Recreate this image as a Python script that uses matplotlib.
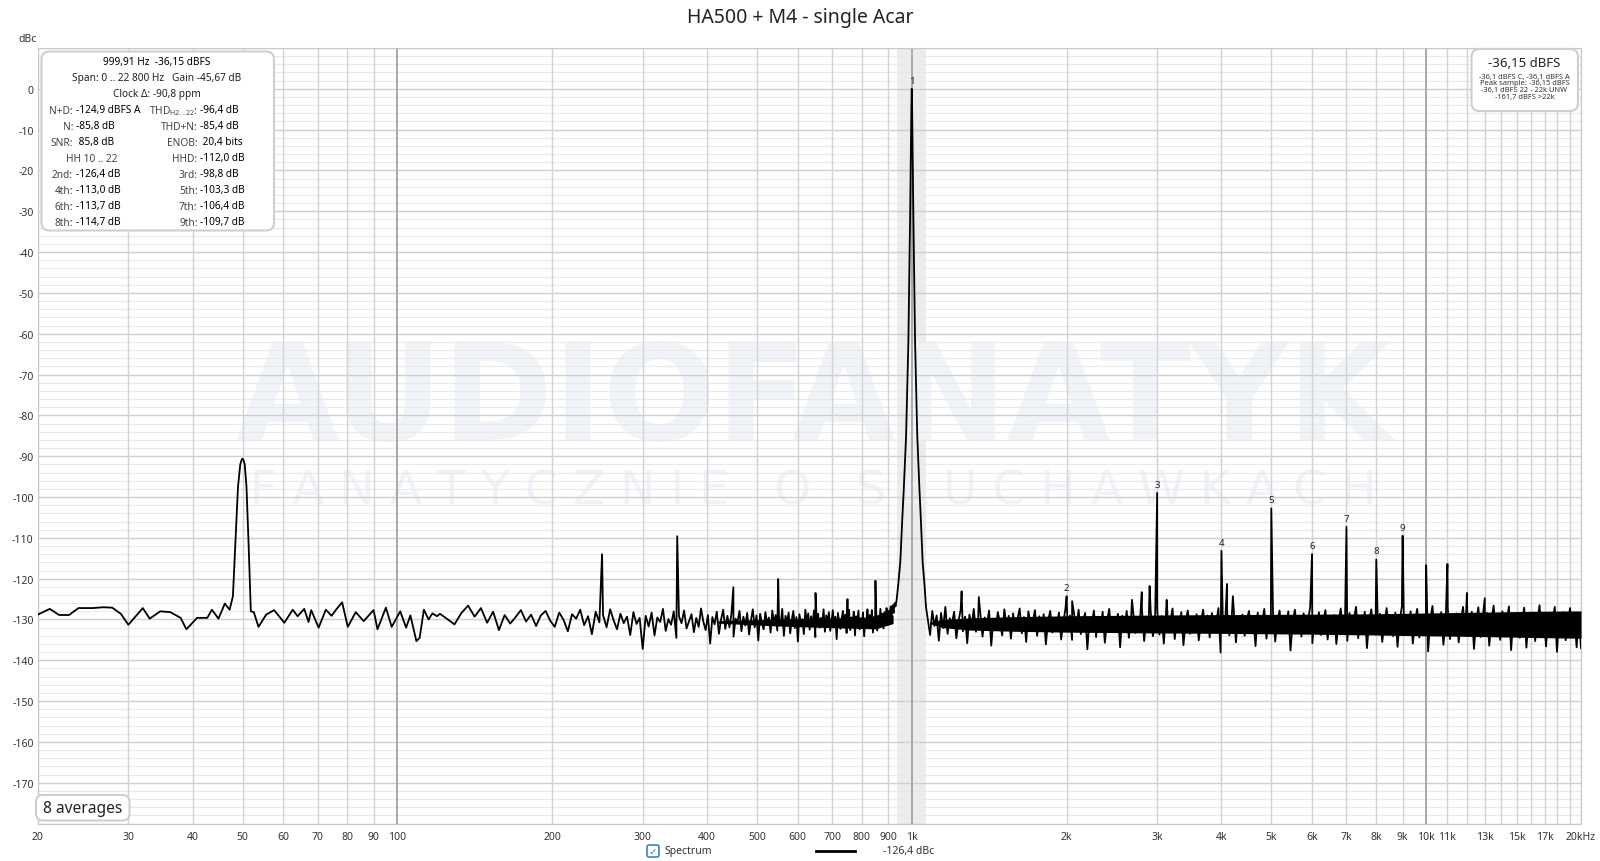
import numpy as np
import matplotlib.pyplot as plt
from matplotlib.patches import FancyBboxPatch
from matplotlib.lines import Line2D
from matplotlib.transforms import IdentityTransform

plt.rcParams['font.family'] = ['Noto Sans', 'DejaVu Sans']

# ---- spectrum values (dBc) ----
# 20 .. 120 Hz, incl. the 50 Hz hum peak
low_freq = [20.0, 21.1, 22.0, 23.0, 24.0, 25.6, 26.8, 27.9, 29.0, 30.0, 31.0, 32.0, 33.0,
            34.6, 36.2, 37.9, 38.9, 40.8, 42.7, 43.6, 44.9, 46.2, 47.2, 47.9, 48.4, 49.0,
            49.5, 49.8, 50.0, 50.2, 50.5, 50.9, 51.4, 51.9, 52.6, 53.7, 55.6, 57.6, 60.3,
            62.6, 64.0, 65.9, 67.2, 68.0, 70.3, 72.6, 74.5, 76.0, 78.1, 80.1, 83.0, 86.0,
            89.9, 91.5, 95.0, 97.5, 101.3, 104.0, 106.0, 108.9, 110.5, 112.6, 115.0, 117.0, 119.4]
low_db = [-128.8, -127.4, -128.9, -128.9, -127.2, -127.2, -127.0, -127.1, -128.6, -131.3, -129.2,
          -127.2, -129.8, -128.0, -128.2, -129.6, -132.4, -129.6, -129.6, -127.6, -129.8, -126.1,
          -127.6, -124.3, -112.0, -97.5, -92.0, -90.9, -90.6, -90.9, -92.0, -97.5, -112.0, -128.0,
          -128.2, -131.8, -128.8, -127.7, -130.8, -127.6, -129.2, -127.4, -130.6, -127.7, -132.0,
          -127.6, -129.1, -127.6, -125.8, -131.8, -128.2, -130.4, -127.7, -132.4, -127.1, -131.8,
          -128.0, -132.0, -129.0, -135.3, -134.5, -127.6, -130.0, -128.5, -129.2]

# 121 .. 930 Hz noise floor (evenly spaced FFT bins)
mid_db = [
    -128.6, -129.9, -131.2, -128.4, -126.6, -129.3, -127.2, -130.8, -128.1, -132.6,
    -128.9, -131.0, -129.4, -127.7, -130.5, -128.8, -131.6, -129.0, -127.9, -130.3,
    -131.8, -128.3, -130.1, -132.9, -128.7, -129.8, -127.6, -131.4, -129.2, -133.6,
    -128.1, -130.7, -128.9, -131.9, -127.5, -130.2, -132.4, -128.6, -130.9, -129.3,
    -133.8, -128.2, -131.1, -129.6, -137.2,
    -129.1, -131.7, -128.3, -133.9, -129.5, -130.6, -127.4, -132.8, -129.9, -131.3,
    -128.0, -134.5, -129.2, -130.9, -127.8, -132.2, -130.4, -128.7, -133.1, -129.6,
    -131.8, -127.3, -130.5, -132.6, -128.9, -135.9, -129.4, -131.2, -128.1, -133.5,
    -130.0, -127.6, -132.3, -129.1, -131.9, -128.5, -134.2, -129.8, -130.7, -127.9,
    -132.9, -129.3, -131.5, -128.4, -133.7, -130.2, -127.5, -131.9, -129.0, -135.1,
    -128.6, -130.8, -132.4, -128.2, -131.1,
    -129.5, -133.2, -127.8, -130.9, -128.9, -132.7, -129.7, -131.3, -127.4, -134.0,
    -129.1, -130.6, -128.3, -133.4, -130.1, -127.9, -132.1, -129.4, -135.4, -128.7,
    -131.0, -129.9, -133.6, -127.6, -130.8, -128.5, -132.5, -129.2, -131.7, -127.8,
    -134.3, -130.3, -128.6, -132.0, -129.6, -131.4, -127.5, -133.0, -129.0, -130.9,
    -128.2, -132.8, -130.5, -127.7, -131.6, -129.3, -134.8, -128.4, -130.7, -132.3,
    -129.8, -127.9, -131.2, -128.8, -133.3, -130.0, -127.6, -132.6, -129.5, -131.0,
    -128.1, -133.9, -129.2, -130.6, -127.8, -132.4, -129.7, -131.5, -128.3, -134.1,
    -129.9, -130.3, -127.5, -132.0, -128.9, -131.3, -127.7, -133.2, -129.4, -130.8,
    -128.0, -132.7, -129.1, -131.1, -127.4, -130.5, -128.6, -132.2, -128.2, -130.0,
    -127.2, -131.4, -127.9, -129.3, -126.8, -129.8, -126.5, -128.4, -126.0, -126.8]

# fundamental at 1 kHz
peak_freq = [935, 942, 950, 958, 965, 975, 985, 993, 998, 1000,
             1002, 1007, 1015, 1025, 1035, 1042, 1050, 1058, 1066]
peak_db = [-125.0, -121.0, -116.0, -106.0, -98.0, -85.0, -62.0, -30.0, -6.0, 0.0,
           -6.0, -30.0, -62.0, -85.0, -98.0, -106.0, -116.0, -121.0, -127.0]

# 1075 Hz .. 20 kHz noise floor
high_db = [
    -130.2, -133.8, -127.9, -131.6, -129.0, -135.2, -128.4, -132.1, -126.9, -133.5,
    -129.7, -131.0, -128.1, -134.6, -130.4, -127.6, -132.9, -129.3, -135.8, -128.8,
    -131.7, -127.4, -133.0, -130.1, -128.6, -134.2, -129.5, -131.3, -127.8, -136.4,
    -129.9, -132.4, -128.2, -130.8, -133.9, -127.5, -131.9, -129.1, -134.7, -128.5,
    -132.6, -130.0, -127.3, -133.4, -129.4, -135.5, -128.0, -131.2, -130.6, -127.7,
    -134.0, -129.2, -132.0, -128.7, -136.1, -130.3, -127.9, -133.2, -129.6, -131.5,
    -128.3, -134.9, -130.7, -127.2, -132.7, -129.0, -135.0, -128.9, -131.8, -127.6,
    -133.6, -130.2, -128.4, -137.3, -129.8, -131.0, -127.8, -134.3, -129.3, -132.3,
    -128.1, -135.7, -130.5, -127.4, -133.1, -129.7, -131.4, -128.6, -136.8, -129.1,
    -132.8, -127.9, -134.5, -130.0, -128.3, -133.3, -129.5, -131.1, -127.5, -135.3,
    -129.9, -132.2, -128.0, -134.1, -130.8, -127.7, -133.7, -129.2, -135.9, -128.5,
    -131.6, -130.3, -127.3, -134.8, -129.6, -132.5, -128.2, -136.3, -130.1, -127.8,
    -133.5, -129.4, -131.9, -128.7, -135.1, -130.6, -127.6, -132.9, -129.0, -134.4,
    -128.4, -131.3, -130.9, -127.2, -138.1, -129.7, -132.1, -128.1, -133.9, -130.4,
    -127.5, -135.6, -129.3, -131.7, -128.8, -134.0, -130.0, -127.9, -133.0, -129.8,
    -136.5, -128.3, -132.4, -130.5, -127.4, -134.7, -129.1, -131.5, -128.6, -135.4,
    -130.2, -127.8, -133.4, -129.5, -131.8, -128.0, -137.6, -130.7, -127.6, -132.6,
    -129.2, -134.2, -128.5, -131.2, -130.1, -127.1, -135.8, -129.9, -132.8, -128.2,
    -133.8, -130.3, -127.7, -134.9, -129.4, -131.9, -128.9, -136.0, -130.6, -127.3,
    -133.2, -129.0, -135.2, -128.4, -131.4, -130.0, -126.9, -134.6, -129.6, -132.3,
    -128.1, -137.0, -130.4, -127.5, -133.6, -129.8, -131.6, -128.6, -135.5, -130.9,
    -127.2, -132.7, -129.3, -134.1, -128.3, -136.7, -130.2, -126.8, -133.1, -129.5,
    -131.9, -128.0, -135.9, -130.5, -127.4, -134.4, -129.1, -132.0, -128.7, -137.8,
    -130.0, -126.7, -133.5, -129.7, -131.3, -128.2, -136.2, -130.8, -127.3, -134.8,
    -129.2, -132.5, -128.5, -135.6, -130.3, -126.9, -133.9, -129.9, -131.7, -128.1,
    -137.2, -130.6, -127.0, -134.3, -129.4, -132.9, -128.4, -136.4, -130.1, -126.6,
    -133.3, -129.6, -135.0, -128.0, -131.8, -130.7, -126.8, -137.5, -129.3, -132.2,
    -128.6, -134.5, -130.4, -127.1, -136.9, -129.8, -131.4, -128.3, -135.3, -130.9,
    -126.5, -133.7, -129.0, -136.6, -128.7, -131.6, -130.2, -126.9, -137.9, -129.5,
    -132.6, -128.2, -135.1, -130.5, -127.2, -134.0, -129.7, -136.8, -128.4, -137.0]

# solid core of the dense noise band (where the trace is packed black)
core_mid_freq = [420, 550, 700, 850, 920]
core_mid_top = [-130.3, -129.9, -129.6, -129.4, -128.9]
core_mid_bot = [-130.9, -131.6, -132.0, -132.3, -131.0]
core_hi_freq = [1085, 1150, 1300, 1600, 2000, 3000, 4000, 6000, 8000, 10000, 13000,
                16000, 20000]
core_hi_top = [-130.6, -130.0, -129.6, -129.3, -129.1, -128.9, -128.8, -128.7, -128.6,
               -128.4, -128.2, -128.0, -127.9]
core_hi_bot = [-131.0, -132.0, -132.6, -132.9, -133.1, -133.3, -133.4, -133.6, -133.8,
               -134.0, -134.2, -134.4, -134.6]

# mains / idle-tone spurs and small sidebands
spur_freq = [250, 350, 450, 550, 650, 750, 850, 1250, 1350, 2050, 2680, 2800, 2900,
             3130, 4100, 4210, 10000, 11000, 12000, 13000]
spur_db = [-114.0, -109.6, -122.1, -120.1, -123.5, -125.0, -120.5, -123.1, -124.5, -125.5,
           -125.2, -123.3, -121.8, -125.2, -121.3, -124.3, -116.7, -116.4, -123.5, -124.8]

# harmonics 2..9 (1 = fundamental)
harm_freq = [1000, 2000, 3000, 4000, 5000, 6000, 7000, 8000, 9000]
harm_db = [0.0, -124.3, -99.0, -113.2, -102.8, -114.0, -107.3, -115.3, -109.5]
harm_label = ['1', '2', '3', '4', '5', '6', '7', '8', '9']

mid_freq = np.linspace(121, 930, len(mid_db))
high_freq = np.geomspace(1075, 20000, len(high_db))

freq = np.concatenate([low_freq, mid_freq, peak_freq, high_freq, spur_freq, harm_freq[1:]])
level = np.concatenate([low_db, mid_db, peak_db, high_db, spur_db, harm_db[1:]])
order = np.argsort(freq)
freq, level = freq[order], level[order]

# ---- figure ----
W, H = 1600, 862
fig = plt.figure(figsize=(16, 8.62), dpi=100)
ax = fig.add_axes([37.8 / W, 1 - 824.6 / H, 1543.2 / W, 775.6 / H])
ax.set_xscale('log')
ax.set_xlim(20, 20000)
ax.set_ylim(-180, 10)

# grid
for db in range(-180, 11, 2):
    if db % 10 == 0:
        ax.axhline(db, color='#cfcfcf', lw=1.0, zorder=1)
    else:
        ax.axhline(db, color='#e9e9e9', lw=0.8, zorder=1)
grid_f = list(range(20, 100, 10)) + list(range(200, 1000, 100)) + \
    list(range(2000, 10000, 1000)) + list(range(11000, 20001, 1000))
for f in grid_f:
    ax.axvline(f, color='#d2d2d2', lw=1.0, zorder=1)
for f in [100, 1000, 10000]:
    ax.axvline(f, color='#a8a8a8', lw=1.4, zorder=1)

ax.axvspan(938, 1066, color='#ececec', zorder=0.5, lw=0)

# watermark
ax.text(0.5027, 1 - (403 - 49) / 775.6, 'AUDIOFANATYK', transform=ax.transAxes,
        ha='center', va='center', fontsize=96, fontweight='bold', color='#f0f4f9',
        family='DejaVu Sans', zorder=0.6)
ax.text(0.5027, 1 - (492 - 49) / 775.6, 'F A N A T Y C Z N I E   O   S Ł U C H A W K A C H',
        transform=ax.transAxes, ha='center', va='center', fontsize=34, color='#eff3f8',
        family='DejaVu Sans', zorder=0.6)

ax.fill_between(core_mid_freq, core_mid_bot, core_mid_top, color='black', lw=0, zorder=2.9)
ax.fill_between(core_hi_freq, core_hi_bot, core_hi_top, color='black', lw=0, zorder=2.9)
ax.plot(freq, level, color='black', lw=1.3, zorder=3)

for f, db, lab in zip(harm_freq, harm_db, harm_label):
    ax.annotate(lab, (f, db), xytext=(0, 3), textcoords='offset points',
                ha='center', va='bottom', fontsize=7, color='#222222', zorder=4)

# ticks
xt = [20, 30, 40, 50, 60, 70, 80, 90, 100, 200, 300, 400, 500, 600, 700, 800, 900,
      1000, 2000, 3000, 4000, 5000, 6000, 7000, 8000, 9000, 10000, 11000, 13000, 15000,
      17000, 20000]
xl = ['20', '30', '40', '50', '60', '70', '80', '90', '100', '200', '300', '400', '500',
      '600', '700', '800', '900', '1k', '2k', '3k', '4k', '5k', '6k', '7k', '8k', '9k',
      '10k', '11k', '13k', '15k', '17k', '20kHz']
ax.set_xticks(xt)
ax.set_xticklabels(xl)
ax.xaxis.set_minor_locator(plt.NullLocator())
for t in ax.get_xticklabels():
    if t.get_text() in ('11k', '13k', '15k', '17k'):
        t.set_color('#a8a8a8')
yt = list(range(0, -171, -10))
ax.set_yticks(yt)
ax.set_yticklabels([str(v) for v in yt])
ax.tick_params(length=0, labelsize=7.5, labelcolor='#333333')
ax.tick_params(axis='x', pad=5)
ax.tick_params(axis='y', pad=3)
for s in ax.spines.values():
    s.set_color('#c8c8c8')

# ---- texts in pixel coordinates ----
def ftext(x, y, s, **kw):
    fig.text(x / W, 1 - y / H, s, **kw)

def rbox(x0, y0, x1, y1, r=8, lw=1.5, ec='#cfcfcf'):
    p = FancyBboxPatch((x0, H - y1), x1 - x0, y1 - y0,
                       boxstyle='round,pad=0,rounding_size=%d' % r,
                       transform=IdentityTransform(), fc='white', ec=ec, lw=lw)
    fig.add_artist(p)

ftext(800, 17.5, 'HA500 + M4 - single Acar', ha='center', va='center', fontsize=14,
      color='#222222')
ftext(27.5, 40, 'dBc', ha='center', va='center', fontsize=7.5, color='#333333')

# measurement box
rbox(41.5, 52.5, 274, 231.5)
fs = 7.3
cx = 157
ftext(cx, 63, '999,91 Hz  -36,15 dBFS', ha='center', va='center', fontsize=fs, color='black')
ftext(cx, 79, 'Span: 0 .. 22 800 Hz   Gain -45,67 dB', ha='center', va='center',
      fontsize=fs, color='#222222')
ftext(cx, 95, 'Clock \u0394: -90,8 ppm', ha='center', va='center', fontsize=fs, color='#222222')
rows = [('N+D:', '-124,9 dBFS A', r'THD$_{\mathregular{H2..22}}$:', '-96,4 dB'),
        ('N:', '-85,8 dB', 'THD+N:', '-85,4 dB'),
        ('SNR:', ' 85,8 dB', 'ENOB:', ' 20,4 bits'),
        ('', '', 'HHD:', '-112,0 dB'),
        ('2nd:', '-126,4 dB', '3rd:', '-98,8 dB'),
        ('4th:', '-113,0 dB', '5th:', '-103,3 dB'),
        ('6th:', '-113,7 dB', '7th:', '-106,4 dB'),
        ('8th:', '-114,7 dB', '9th:', '-109,7 dB')]
for i, (l1, v1, l2, v2) in enumerate(rows):
    y = 111 + 16 * i
    ftext(73, y, l1, ha='right', va='center', fontsize=fs, color='#444444')
    ftext(76, y, v1, ha='left', va='center', fontsize=fs, color='black')
    ftext(197.5, y, l2, ha='right', va='center', fontsize=fs, color='#444444')
    ftext(200.5, y, v2, ha='left', va='center', fontsize=fs, color='black')
ftext(92, 159, 'HH 10 .. 22', ha='center', va='center', fontsize=fs, color='#444444')

# level box
rbox(1471.5, 50, 1578, 112)
ftext(1524.5, 63.5, '-36,15 dBFS', ha='center', va='center', fontsize=9.5, color='#222222')
for i, s in enumerate(['-36,1 dBFS C, -36,1 dBFS A', 'Peak sample: -36,15 dBFS',
                       '-36,1 dBFS 22 - 22k UNW', '-161,7 dBFS >22k']):
    ftext(1524.5, 77 + 6.8 * i, s, ha='center', va='center', fontsize=5.4, color='#333333')

# averages box
rbox(36, 796, 129.5, 821.5, r=7)
ftext(82.5, 809, '8 averages', ha='center', va='center', fontsize=11.2, color='#222222')

# legend
rbox(647, 846, 659, 858, r=2, lw=1.1, ec='#2b78d0')
ftext(653, 852, '\u2713', ha='center', va='center', fontsize=7.5, color='#2b78d0',
      family=['DejaVu Sans'])
ftext(664, 852, 'Spectrum', ha='left', va='center', fontsize=7.5, color='#333333')
fig.add_artist(Line2D([816 / W, 855 / W], [1 - 852 / H, 1 - 852 / H], color='black', lw=2,
                      transform=fig.transFigure))
ftext(883, 852, '-126,4 dBc', ha='left', va='center', fontsize=7.5, color='#333333')

fig.savefig('out.png', dpi=100, facecolor='white')
